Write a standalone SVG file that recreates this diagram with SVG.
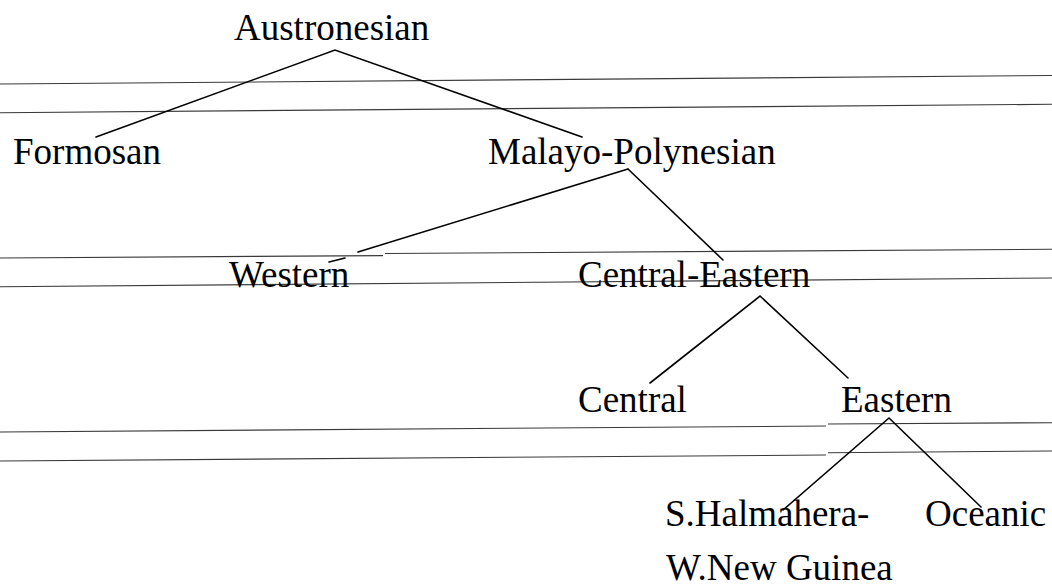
<svg xmlns="http://www.w3.org/2000/svg" width="1052" height="586" viewBox="0 0 1052 586">
  <style>
    .lbl { font-family: "Liberation Serif", "Times New Roman", serif; font-size: 37px; fill: #000; }
    .edge { stroke: #000; stroke-width: 1.6; fill: none; stroke-linecap: round; }
    .rule { stroke: #3a3a3a; stroke-width: 1.1; fill: none; }
  </style>
  <rect width="1052" height="586" fill="#fff"/>

  <!-- ruled lines running across the page -->
  <g id="rules">
    <line class="rule" x1="0" y1="84" x2="1052" y2="75.5"/>
    <line class="rule" x1="0" y1="112.7" x2="1052" y2="104.3"/>
    <line class="rule" x1="0" y1="258" x2="383" y2="255.6"/>
    <line class="rule" x1="385" y1="253.5" x2="1052" y2="249.3"/>
    <line class="rule" x1="0" y1="286.7" x2="1052" y2="278"/>
    <line class="rule" x1="0" y1="432" x2="826" y2="426"/>
    <line class="rule" x1="828" y1="424" x2="1052" y2="422.7"/>
    <line class="rule" x1="0" y1="461" x2="826" y2="455"/>
    <line class="rule" x1="828" y1="452.7" x2="1052" y2="451"/>
  </g>

  <!-- tree branches -->
  <g id="connectors">
    <polyline class="edge" points="96,137 335,50 582,137"/>
    <line class="edge" x1="628" y1="169" x2="358" y2="252"/>
    <line class="edge" x1="345" y1="258" x2="329" y2="262"/>
    <line class="edge" x1="628" y1="169" x2="723" y2="260"/>
    <polyline class="edge" points="650,383 760,296 848,378"/>
    <polyline class="edge" points="783,510 889,418 981,507"/>
  </g>

  <g id="austronesian"><text class="lbl" x="234" y="40">Austronesian</text></g>
  <g id="formosan"><text class="lbl" x="13" y="164">Formosan</text></g>
  <g id="malayo-polynesian"><text class="lbl" x="488" y="164">Malayo-Polynesian</text></g>
  <g id="western"><text class="lbl" x="229" y="287">Western</text></g>
  <g id="central-eastern"><text class="lbl" x="578" y="287">Central-Eastern</text></g>
  <g id="central"><text class="lbl" x="578" y="412">Central</text></g>
  <g id="eastern"><text class="lbl" x="841" y="412">Eastern</text></g>
  <g id="shalmahera-wnewguinea">
    <text class="lbl" x="665" y="526">S.Halmahera-</text>
    <text class="lbl" x="666" y="580">W.New Guinea</text>
  </g>
  <g id="oceanic"><text class="lbl" x="925" y="526">Oceanic</text></g>
</svg>
